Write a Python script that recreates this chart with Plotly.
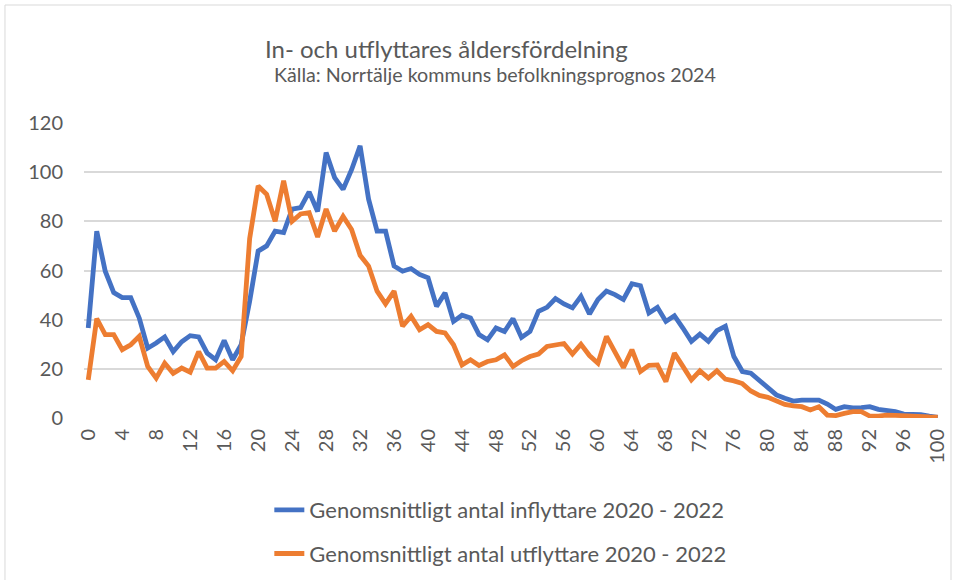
import plotly.graph_objects as go

ages = list(range(0, 101))

inflyttare = [
    36.6, 76, 59.7, 51, 49, 49, 40.7, 28.4, 30.5, 33,
    27, 31, 33.5, 33, 26.4, 23.7, 31.5, 23.7, 29.8, 47.5,
    67.9, 70, 76, 75.4, 85, 85.6, 92, 84, 108, 97.8,
    93, 101, 110.7, 89, 76, 76, 61.8, 59.7, 60.8, 58.4,
    57, 45.4, 50.9, 39.3, 41.8, 40.7, 33.9, 31.8, 36.6, 35.2,
    40.4, 32.8, 35.2, 43.4, 45, 48.6, 46.4, 44.8, 49.5, 42.3,
    48.2, 51.6, 50.2, 48.2, 54.6, 53.8, 42.7, 45, 39.3, 41.6,
    36.6, 31.2, 34.1, 31.2, 35.5, 37.3, 25, 18.9, 18.2, 15.2,
    11.8, 9.4, 8, 6.9, 7.3, 7.5, 7.3, 5.7, 3.5, 4.6,
    4.1, 4.2, 4.6, 3.5, 3, 2.6, 1.6, 1.5, 1.4, 0.8,
    0.3,
]

utflyttare = [
    15.5, 40.4, 33.9, 33.9, 27.8, 29.8, 33.2, 21, 16.2, 22.3,
    18.2, 20.3, 18.6, 27, 20.3, 20.3, 23, 19.2, 25, 73,
    94.4, 91, 80, 96.5, 80, 83, 83.5, 73.6, 85, 76,
    82, 76.7, 66.2, 61.8, 51.6, 46.4, 51.6, 37.3, 41.4, 35.9,
    38, 35.2, 34.6, 29.8, 21.6, 23.7, 21.4, 23, 23.7, 25.7,
    21, 23.3, 25, 26, 29.1, 29.8, 30.3, 26, 30, 25.4,
    22.3, 33.2, 26.8, 20.5, 27.8, 18.9, 21.4, 21.6, 14.8, 26.4,
    21, 15.5, 19.2, 16.2, 19.2, 15.8, 15.1, 14, 11, 9.2,
    8.4, 7, 5.5, 4.9, 4.6, 3.3, 4.6, 1.2, 1, 1.9,
    2.6, 2.6, 0.8, 0.8, 1.2, 1.1, 0.8, 0.7, 0.5, 0.4,
    0.3,
]

series_names = [
    "Genomsnittligt antal inflyttare 2020 - 2022",
    "Genomsnittligt antal utflyttare 2020 - 2022",
]
x_tick_labels = [str(a) for a in range(0, 101, 4)]
y_tick_values = [0, 20, 40, 60, 80, 100, 120]

title_text = "In- och utflyttares åldersfördelning"
subtitle_text = "Källa: Norrtälje kommuns befolkningsprognos 2024"

FONT = "Lato, 'Open Sans', sans-serif"
GRAY = "#595959"

fig = go.Figure()
fig.add_trace(go.Scatter(
    x=ages, y=inflyttare, mode="lines", name=series_names[0],
    line=dict(color="#4472C4", width=4.8), legendgroup="a",
))
fig.add_trace(go.Scatter(
    x=ages, y=utflyttare, mode="lines", name=series_names[1],
    line=dict(color="#ED7D31", width=4.8), legendgroup="b",
))

fig.update_layout(
    width=957, height=580,
    margin=dict(l=84, r=15, t=123, b=162, autoexpand=False),
    paper_bgcolor="white", plot_bgcolor="white",
    font=dict(family=FONT, color=GRAY, size=16),
    showlegend=True,
    legend=dict(
        orientation="v", x=0.216, xanchor="left", y=-0.241, yanchor="top",
        font=dict(family=FONT, size=22, color=GRAY),
        tracegroupgap=12, bgcolor="rgba(0,0,0,0)",
    ),
    annotations=[
        dict(text=title_text, x=0.423, y=1.254, xref="paper", yref="paper",
             showarrow=False, xanchor="center", yanchor="middle",
             font=dict(family=FONT, size=24, color=GRAY)),
        dict(text=subtitle_text, x=0.479, y=1.163, xref="paper", yref="paper",
             showarrow=False, xanchor="center", yanchor="middle",
             font=dict(family=FONT, size=19.7, color=GRAY)),
    ],
    shapes=[
        dict(type="rect", xref="paper", yref="paper",
             x0=-0.0921, x1=1.0105, y0=-0.56, y1=1.4,
             line=dict(color="#D9D9D9", width=1), fillcolor="rgba(0,0,0,0)",
             layer="below"),
    ],
)

fig.update_xaxes(
    range=[-0.5, 100.5],
    tickmode="array", tickvals=list(range(0, 101, 4)), ticktext=x_tick_labels,
    tickangle=-90, showgrid=False, zeroline=False,
    showline=False, ticks="", ticklabelstandoff=6,
    tickfont=dict(family=FONT, size=20, color=GRAY),
)
fig.update_yaxes(
    range=[0, 120],
    tickmode="array", tickvals=y_tick_values,
    showgrid=True, gridcolor="#D9D9D9", gridwidth=1.5,
    zeroline=False, showline=False, ticks="", ticklabelstandoff=20,
    tickfont=dict(family=FONT, size=20, color=GRAY),
)

fig.write_html("out.html", config={"displayModeBar": False},
               post_script=["document.body.style.margin='0px';"])
